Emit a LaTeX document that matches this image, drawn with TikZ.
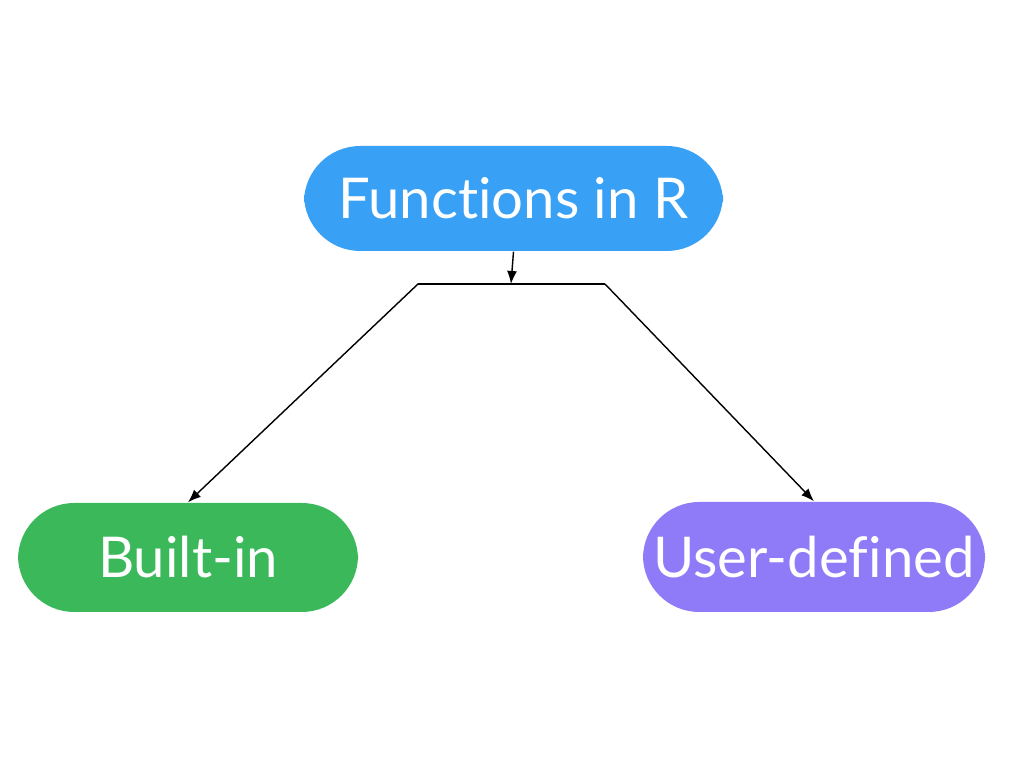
\documentclass[tikz,border=0pt]{standalone}
\usepackage{fontspec}
\setmainfont[Ligatures=NoCommon]{Lato}
\usetikzlibrary{positioning}
\usetikzlibrary{arrows.meta}
\definecolor{topblue}{RGB}{56,161,245}
\definecolor{builtgreen}{RGB}{59,185,90}
\definecolor{userpurple}{RGB}{143,123,247}

\begin{document}
\begin{tikzpicture}[>={Latex[length=1.3mm,width=1mm]},
box/.style={rectangle,rounded corners=16pt,text=white,font=\fontsize{16}{19}\selectfont,inner sep=0pt},
link/.style={draw=black,line width=0.4pt}]

\useasboundingbox (0,0) rectangle (10.24,7.68);

\node [box,fill=topblue,minimum width=4.19cm,minimum height=1.05cm] (func) at (5.135,5.695) {Functions in R};
\node [box,fill=builtgreen,minimum width=3.40cm,minimum height=1.09cm] (builtin) at (1.88,2.105) {Built-in};
\node [box,fill=userpurple,minimum width=3.42cm,minimum height=1.10cm] (userdef) at (8.14,2.11) {User-defined};

\coordinate (split) at (5.11,4.84);
\coordinate (splitl) at (4.18,4.84);
\coordinate (splitr) at (6.05,4.84);

\draw [link,->] (func.south) -- (split);
\draw [link] (splitl) -- (splitr);
\draw [link,->] (splitl) -- (builtin.north);
\draw [link,->] (splitr) -- (userdef.north);
\end{tikzpicture}
\end{document}
